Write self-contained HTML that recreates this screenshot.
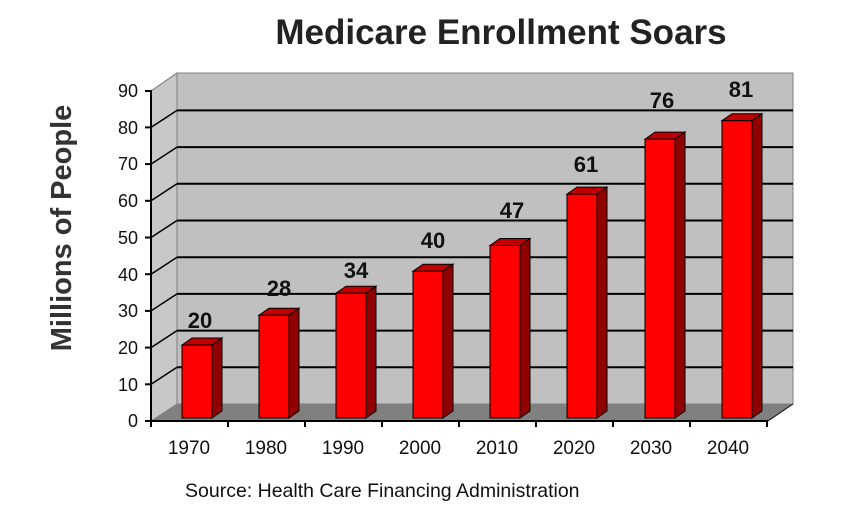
<!DOCTYPE html>
<html><head><meta charset="utf-8"><style>body{margin:0;background:#fff}svg{display:block}</style></head><body>
<svg width="864" height="518" viewBox="0 0 864 518" font-family="Liberation Sans, Arial, sans-serif">
<text x="501" y="44" font-size="35" font-weight="bold" text-anchor="middle" fill="#222">Medicare Enrollment Soars</text>
<text transform="translate(71,228) rotate(-90)" font-size="29" font-weight="bold" text-anchor="middle" fill="#333">Millions of People</text>
<rect x="177" y="73" width="616" height="331" fill="#c0c0c0" stroke="#808080"/>
<polygon points="151,91 177,73 177,404 151,421" fill="#c8c8c8" stroke="#808080"/>
<polygon points="151,421 177,404 793,404 768,421" fill="#808080"/>
<g stroke="#000" stroke-width="2">
<line x1="177" y1="367.3" x2="793" y2="367.3"/><line x1="177" y1="330.6" x2="793" y2="330.6"/><line x1="177" y1="293.9" x2="793" y2="293.9"/><line x1="177" y1="257.2" x2="793" y2="257.2"/><line x1="177" y1="220.5" x2="793" y2="220.5"/><line x1="177" y1="183.8" x2="793" y2="183.8"/><line x1="177" y1="147.1" x2="793" y2="147.1"/><line x1="177" y1="110.4" x2="793" y2="110.4"/>
</g>
<g stroke="#000" stroke-width="1.5">
<line x1="151" y1="384.3" x2="177" y2="367.3"/><line x1="151" y1="347.6" x2="177" y2="330.6"/><line x1="151" y1="310.9" x2="177" y2="293.9"/><line x1="151" y1="274.2" x2="177" y2="257.2"/><line x1="151" y1="237.5" x2="177" y2="220.5"/><line x1="151" y1="200.8" x2="177" y2="183.8"/><line x1="151" y1="164.1" x2="177" y2="147.1"/><line x1="151" y1="127.4" x2="177" y2="110.4"/>
<line x1="151" y1="91" x2="177" y2="73" stroke="#808080" stroke-width="1"/>
<line x1="768" y1="421" x2="793" y2="404" stroke="#000" stroke-width="1"/>
</g>
<g stroke="#000" stroke-width="2">
<line x1="151" y1="90" x2="151" y2="422"/>
<line x1="150" y1="421" x2="768" y2="421"/>
<line x1="145" y1="91" x2="151" y2="91"/><line x1="145" y1="127.4" x2="151" y2="127.4"/><line x1="145" y1="164.1" x2="151" y2="164.1"/><line x1="145" y1="200.8" x2="151" y2="200.8"/><line x1="145" y1="237.5" x2="151" y2="237.5"/><line x1="145" y1="274.2" x2="151" y2="274.2"/><line x1="145" y1="310.9" x2="151" y2="310.9"/><line x1="145" y1="347.6" x2="151" y2="347.6"/><line x1="145" y1="384.3" x2="151" y2="384.3"/><line x1="145" y1="421" x2="151" y2="421"/>
<line x1="151" y1="421" x2="151" y2="427"/><line x1="228" y1="421" x2="228" y2="427"/><line x1="305" y1="421" x2="305" y2="427"/><line x1="382" y1="421" x2="382" y2="427"/><line x1="459" y1="421" x2="459" y2="427"/><line x1="536" y1="421" x2="536" y2="427"/><line x1="613" y1="421" x2="613" y2="427"/><line x1="690" y1="421" x2="690" y2="427"/><line x1="767" y1="421" x2="767" y2="427"/>
</g>
<g font-size="18" text-anchor="end" fill="#111">
<text x="138" y="97">90</text><text x="138" y="134">80</text><text x="138" y="170">70</text><text x="138" y="207">60</text><text x="138" y="244">50</text><text x="138" y="281">40</text><text x="138" y="317">30</text><text x="138" y="354">20</text><text x="138" y="391">10</text><text x="138" y="427">0</text>
</g>
<g stroke="#000" stroke-width="1">
<g><polygon points="182,345 192,338 222,338 212,345" fill="#c00000"/><polygon points="212,345 222,338 222,411 212,418" fill="#900000"/><rect x="182" y="345" width="30" height="73" fill="#ff0000"/></g>
<g><polygon points="259,315.2 269,308.2 299,308.2 289,315.2" fill="#c00000"/><polygon points="289,315.2 299,308.2 299,411 289,418" fill="#900000"/><rect x="259" y="315.2" width="30" height="102.8" fill="#ff0000"/></g>
<g><polygon points="336,293.2 346,286.2 376,286.2 366,293.2" fill="#c00000"/><polygon points="366,293.2 376,286.2 376,411 366,418" fill="#900000"/><rect x="336" y="293.2" width="30" height="124.8" fill="#ff0000"/></g>
<g><polygon points="413,271.2 423,264.2 453,264.2 443,271.2" fill="#c00000"/><polygon points="443,271.2 453,264.2 453,411 443,418" fill="#900000"/><rect x="413" y="271.2" width="30" height="146.8" fill="#ff0000"/></g>
<g><polygon points="490,245.5 500,238.5 530,238.5 520,245.5" fill="#c00000"/><polygon points="520,245.5 530,238.5 530,411 520,418" fill="#900000"/><rect x="490" y="245.5" width="30" height="172.5" fill="#ff0000"/></g>
<g><polygon points="567,194.1 577,187.1 607,187.1 597,194.1" fill="#c00000"/><polygon points="597,194.1 607,187.1 607,411 597,418" fill="#900000"/><rect x="567" y="194.1" width="30" height="223.9" fill="#ff0000"/></g>
<g><polygon points="645,139.1 655,132.1 685,132.1 675,139.1" fill="#c00000"/><polygon points="675,139.1 685,132.1 685,411 675,418" fill="#900000"/><rect x="645" y="139.1" width="30" height="278.9" fill="#ff0000"/></g>
<g><polygon points="722,120.7 732,113.7 762,113.7 752,120.7" fill="#c00000"/><polygon points="752,120.7 762,113.7 762,411 752,418" fill="#900000"/><rect x="722" y="120.7" width="30" height="297.3" fill="#ff0000"/></g>
</g>
<g font-size="22" font-weight="bold" text-anchor="middle" fill="#111">
<text x="200" y="328">20</text><text x="279" y="296">28</text><text x="356" y="278">34</text><text x="433" y="248">40</text><text x="512" y="218">47</text><text x="586" y="172">61</text><text x="662" y="108">76</text><text x="741" y="97">81</text>
</g>
<g font-size="19" text-anchor="middle" fill="#111">
<text x="189" y="454">1970</text><text x="266" y="454">1980</text><text x="343" y="454">1990</text><text x="420" y="454">2000</text><text x="497" y="454">2010</text><text x="574" y="454">2020</text><text x="651" y="454">2030</text><text x="728" y="454">2040</text>
</g>
<text x="185" y="497" font-size="19.5" fill="#111">Source: Health Care Financing Administration</text>
</svg>
</body></html>
